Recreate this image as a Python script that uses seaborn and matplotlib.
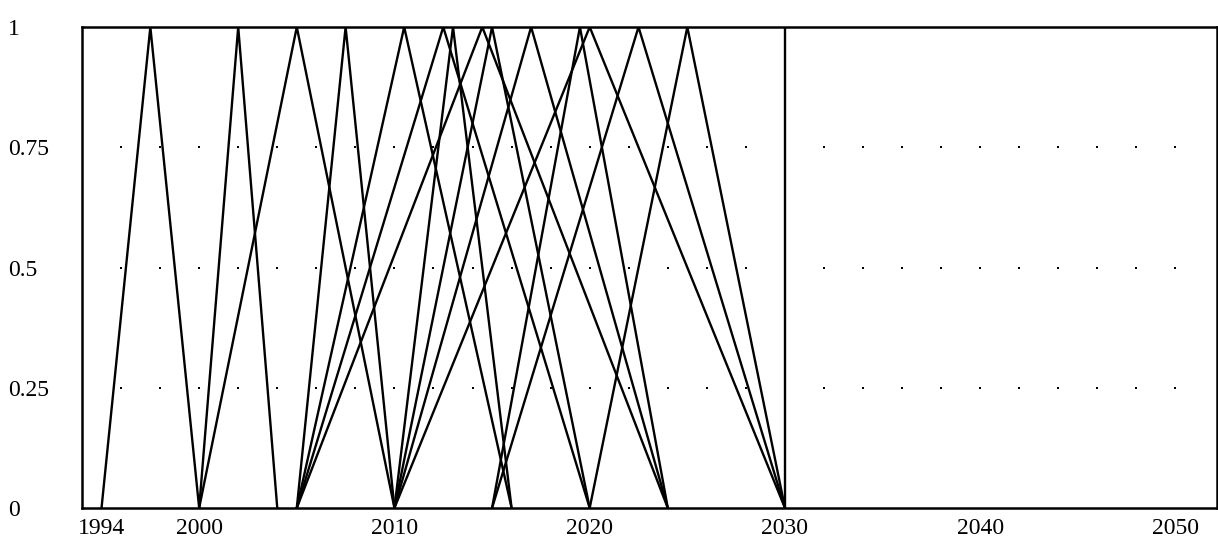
import numpy as np
import pandas as pd
import matplotlib
matplotlib.use('Agg')
import matplotlib.pyplot as plt
import matplotlib.transforms as mtransforms
import seaborn as sns

# triangular membership functions: start year, peak year, end year
starts = [1995, 2000, 2000, 2005, 2005, 2005, 2010, 2005, 2010, 2010, 2010, 2015, 2015, 2020]
peaks = [1997.5, 2002, 2005, 2007.5, 2010.5, 2012.5, 2013, 2014.5, 2015, 2017, 2020, 2019.5, 2022.5, 2025]
ends = [2000, 2004, 2010, 2010, 2016, 2020, 2016, 2024, 2020, 2024, 2030, 2024, 2030, 2030]

x_ticks = [1994, 2000, 2010, 2020, 2030, 2040, 2050]
y_ticks = [0, 0.25, 0.5, 0.75, 1]
y_labels = ['0', '0.25', '0.5', '0.75', '1']
horizon = 2030

rows = []
for i, (a, m, b) in enumerate(zip(starts, peaks, ends)):
    rows += [(i, a, 0.0), (i, m, 1.0), (i, b, 0.0)]
df = pd.DataFrame(rows, columns=['fn', 'year', 'mu'])

sns.set_style('white')
plt.rcParams['font.family'] = ['Liberation Serif', 'DejaVu Serif']

fig = plt.figure(figsize=(12.18, 5.45), dpi=100)
ax = fig.add_axes([82 / 1218, 1 - 508 / 545, (1216.5 - 82) / 1218, (508 - 27) / 545])

# dotted reference grid (one dot every 2 years)
gx, gy = np.meshgrid(np.arange(1996, 2051, 2), [0.25, 0.5, 0.75])
ax.scatter(gx.ravel(), gy.ravel(), s=4, marker='s', color='black', linewidths=0, zorder=1)

sns.lineplot(data=df, x='year', y='mu', units='fn', estimator=None, sort=False,
             color='black', linewidth=1.7, ax=ax, legend=False, zorder=3)

ax.plot([horizon, horizon], [0, 1], color='black', linewidth=1.7, zorder=3)

ax.set_xlim(1994, 2052.1)
ax.set_ylim(0, 1)
ax.set_xlabel('')
ax.set_ylabel('')
ax.set_xticks(x_ticks)
ax.set_xticklabels([str(t) for t in x_ticks])
ax.set_yticks(y_ticks)
ax.set_yticklabels(y_labels)
ax.tick_params(axis='both', length=0, labelsize=17, colors='black')
ax.tick_params(axis='x', pad=7.5)
ax.tick_params(axis='y', pad=53)
for lab in ax.get_yticklabels():
    lab.set_horizontalalignment('left')
first = ax.get_xticklabels()[0]
first.set_horizontalalignment('left')
first.set_transform(first.get_transform() + mtransforms.ScaledTranslation(-4 / 100, 0, fig.dpi_scale_trans))

for s in ax.spines.values():
    s.set_visible(True)
    s.set_color('black')
    s.set_linewidth(1.8)

fig.savefig('out.png', dpi=100)
